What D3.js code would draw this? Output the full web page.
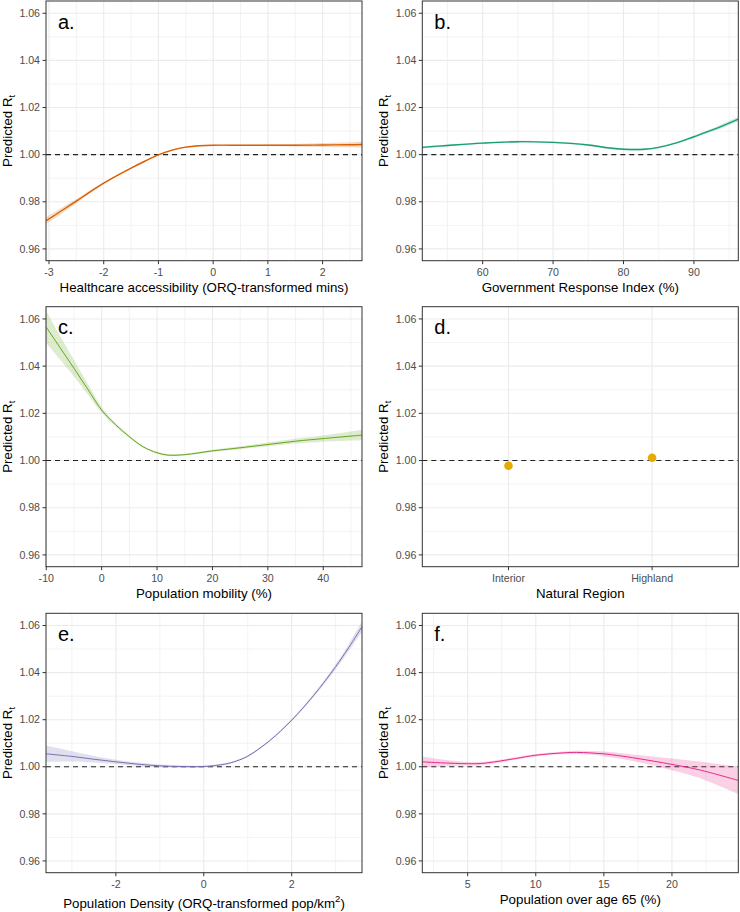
<!DOCTYPE html>
<html><head><meta charset="utf-8">
<script src="https://cdn.jsdelivr.net/npm/d3@7"></script>
<style>body{margin:0;background:#fff}svg{display:block}text{font-family:"Liberation Sans",Arial,sans-serif}</style>
</head><body>
<script>
// ---------- data ----------
const yTicks = [0.96, 0.98, 1.00, 1.02, 1.04, 1.06];
const yMinor = [0.97, 0.99, 1.01, 1.03, 1.05];
const panelLabels = ["a.", "b.", "c.", "d.", "e.", "f."];

// a. Healthcare accessibility
const aX  = [-3.05,-2.75,-2.5,-2.25,-2,-1.75,-1.5,-1.25,-1,-0.75,-0.5,-0.25,0,0.5,1,1.5,2,2.5,2.72];
const aY  = [0.9720,0.9765,0.9803,0.9842,0.9879,0.9912,0.9943,0.9972,0.9999,1.0019,1.0032,1.0038,1.0040,1.0040,1.0040,1.0040,1.0041,1.0042,1.0043];
const aSE = [0.0015,0.0012,0.0009,0.0006,0.0004,0.0003,0.0003,0.0003,0.0003,0.0003,0.0003,0.0002,0.0002,0.0002,0.0003,0.0005,0.0008,0.0011,0.0013];
const aTicks = [-3,-2,-1,0,1,2];
const aMinor = [-2.5,-1.5,-0.5,0.5,1.5,2.5];

// b. Government Response Index
const bX  = [51.4,55,60,65,70,72.5,75,78,80,83,85,87.5,90,93,96.3];
const bY  = [1.0031,1.0039,1.0049,1.0055,1.0052,1.0048,1.0041,1.0028,1.0023,1.0023,1.0031,1.0050,1.0076,1.0109,1.0151];
const bSE = [0.0005,0.0004,0.0004,0.0004,0.0004,0.0004,0.0004,0.0004,0.0004,0.0004,0.0004,0.0004,0.0005,0.0007,0.0010];
const bTicks = [60,70,80,90];
const bMinor = [55,65,75,85,95];

// c. Population mobility
const cX  = [-10,-7.5,-5,-2.5,0,2.5,5,7.5,10,12,15,20,25,30,35,40,47];
const cY  = [1.0565,1.0478,1.0391,1.0302,1.0214,1.0152,1.0101,1.0058,1.0033,1.0023,1.0025,1.0041,1.0054,1.0068,1.0082,1.0093,1.0108];
const cSE = [0.0068,0.0050,0.0035,0.0022,0.0012,0.0008,0.0005,0.0004,0.0004,0.0004,0.0004,0.0005,0.0006,0.0008,0.0010,0.0013,0.0022];
const cTicks = [-10,0,10,20,30,40];
const cMinor = [-5,5,15,25,35,45];

// d. Natural Region
const dCats = ["Interior", "Highland"];
const dY    = [0.9978, 1.0012];

// e. Population Density
const eX  = [-3.59,-3,-2.5,-2,-1.5,-1,-0.5,0,0.5,0.75,1,1.5,2,2.5,3,3.3,3.6];
const eY  = [1.0055,1.0044,1.0032,1.0021,1.0011,1.0004,1.0001,1.0001,1.0012,1.0025,1.0045,1.0111,1.0198,1.0303,1.0425,1.0507,1.0595];
const eSE = [0.0035,0.0022,0.0014,0.0009,0.0007,0.0006,0.0005,0.0004,0.0004,0.0004,0.0004,0.0004,0.0005,0.0007,0.0011,0.0015,0.0022];
const eTicks = [-2,0,2];
const eMinor = [-3,-1,1,3];

// f. Population over age 65
const fX  = [1.67,3,5,6,7,8.5,10,12,13,14,15,16,17.5,20,22,24.87];
const fY  = [1.0021,1.0017,1.0013,1.0014,1.0021,1.0035,1.0049,1.0059,1.0061,1.0059,1.0055,1.0048,1.0035,1.0010,0.9987,0.9942];
const fSE = [0.0023,0.0015,0.0008,0.0007,0.0006,0.0005,0.0005,0.0006,0.0007,0.0008,0.0010,0.0012,0.0015,0.0025,0.0035,0.0058];
const fTicks = [5,10,15,20];
const fMinor = [2.5,7.5,12.5,17.5,22.5];

const colors = ["#D95F02","#1B9E77","#66A61E","#E6AB02","#7570B3","#E7298A"];

// ---------- layout ----------
const W = 740, H = 912;
const cols = [{l:46, r:362}, {l:422.3, r:738.3}];
const rows = [{t:1, b:260.7}, {t:306.7, b:566.7}, {t:613.3, b:872.7}];
const yDomain = [0.955, 1.0652];

const svg = d3.select("body").append("svg").attr("width", W).attr("height", H);
const defs = svg.append("defs");

const panels = [
  {x:aX, y:aY, se:aSE, ticks:aTicks, minor:aMinor, dom:[-3.055,2.72], title:"Healthcare accessibility (ORQ-transformed mins)", lw:1.4},
  {x:bX, y:bY, se:bSE, ticks:bTicks, minor:bMinor, dom:[51.43,96.3], title:"Government Response Index (%)", lw:1.4},
  {x:cX, y:cY, se:cSE, ticks:cTicks, minor:cMinor, dom:[-10.05,47.0], title:"Population mobility (%)", lw:1},
  {cats:dCats, y:dY, title:"Natural Region"},
  {x:eX, y:eY, se:eSE, ticks:eTicks, minor:eMinor, dom:[-3.59,3.6], title:"Population Density (ORQ-transformed pop/km", sup:"2", titleEnd:")", lw:1},
  {x:fX, y:fY, se:fSE, ticks:fTicks, minor:fMinor, dom:[1.67,24.87], title:"Population over age 65 (%)", lw:1}
];

const curve = d3.curveCatmullRom.alpha(0.5);

panels.forEach((p, i) => {
  const c = cols[i % 2], r = rows[Math.floor(i / 2)];
  const g = svg.append("g");
  const y = d3.scaleLinear().domain(yDomain).range([r.b, r.t]);
  let x;
  if (p.cats) {
    x = d3.scalePoint().domain(p.cats).range([c.l, c.r]).padding(0.6);
  } else {
    x = d3.scaleLinear().domain(p.dom).range([c.l, c.r]);
  }
  const clipId = "clip" + i;
  defs.append("clipPath").attr("id", clipId).append("rect")
    .attr("x", c.l).attr("y", r.t).attr("width", c.r - c.l).attr("height", r.b - r.t);

  // grid
  const grid = g.append("g");
  yMinor.forEach(v => grid.append("line").attr("x1", c.l).attr("x2", c.r).attr("y1", y(v)).attr("y2", y(v)).attr("stroke", "#ebebeb").attr("stroke-width", 0.6));
  if (!p.cats) p.minor.filter(v => v > p.dom[0] && v < p.dom[1]).forEach(v => grid.append("line").attr("y1", r.t).attr("y2", r.b).attr("x1", x(v)).attr("x2", x(v)).attr("stroke", "#ebebeb").attr("stroke-width", 0.6));
  yTicks.forEach(v => grid.append("line").attr("x1", c.l).attr("x2", c.r).attr("y1", y(v)).attr("y2", y(v)).attr("stroke", "#ebebeb").attr("stroke-width", 1.1));
  const xt = p.cats ? p.cats : p.ticks;
  xt.forEach(v => grid.append("line").attr("y1", r.t).attr("y2", r.b).attr("x1", x(v)).attr("x2", x(v)).attr("stroke", "#ebebeb").attr("stroke-width", 1.1));

  // reference line
  g.append("line").attr("x1", c.l).attr("x2", c.r).attr("y1", y(1)).attr("y2", y(1))
    .attr("stroke", "#222").attr("stroke-width", 1.1).attr("stroke-dasharray", "5,4");

  const plot = g.append("g").attr("clip-path", `url(#${clipId})`);
  if (p.cats) {
    plot.selectAll("circle").data(p.cats).join("circle")
      .attr("cx", d => x(d)).attr("cy", (d, k) => y(p.y[k])).attr("r", 4.3).attr("fill", colors[i]);
  } else {
    const data = p.x.map((v, k) => ({x: v, y: p.y[k], se: p.se[k]}));
    plot.append("path").datum(data)
      .attr("d", d3.area().curve(curve).x(d => x(d.x)).y0(d => y(d.y - d.se)).y1(d => y(d.y + d.se)))
      .attr("fill", colors[i]).attr("fill-opacity", 0.22);
    plot.append("path").datum(data)
      .attr("d", d3.line().curve(curve).x(d => x(d.x)).y(d => y(d.y)))
      .attr("fill", "none").attr("stroke", colors[i]).attr("stroke-width", p.lw);
  }

  // border
  g.append("rect").attr("x", c.l).attr("y", r.t).attr("width", c.r - c.l).attr("height", r.b - r.t)
    .attr("fill", "none").attr("stroke", "#333").attr("stroke-width", 1);

  // y ticks
  yTicks.forEach(v => {
    g.append("line").attr("x1", c.l - 3.5).attr("x2", c.l).attr("y1", y(v)).attr("y2", y(v)).attr("stroke", "#333").attr("stroke-width", 1);
    g.append("text").attr("x", c.l - 6).attr("y", y(v)).attr("dy", "0.35em").attr("text-anchor", "end")
      .attr("font-size", 10.6).attr("fill", "#4d4d4d").text(v.toFixed(2));
  });
  // x ticks
  xt.forEach(v => {
    g.append("line").attr("y1", r.b).attr("y2", r.b + 3.5).attr("x1", x(v)).attr("x2", x(v)).attr("stroke", "#333").attr("stroke-width", 1);
    g.append("text").attr("x", x(v)).attr("y", r.b + 15).attr("text-anchor", "middle")
      .attr("font-size", 10.6).attr("fill", "#4d4d4d").text(String(v));
  });

  // x title
  const tt = g.append("text").attr("x", (c.l + c.r) / 2).attr("y", r.b + (p.sup ? 35.5 : 31))
    .attr("text-anchor", "middle").attr("font-size", 13.3).attr("fill", "#000");
  tt.append("tspan").text(p.title);
  if (p.sup) {
    tt.append("tspan").attr("dy", -6).attr("font-size", 9.5).text(p.sup);
    tt.append("tspan").attr("dy", 6).text(p.titleEnd);
  }

  // y title
  const yt = g.append("text").attr("transform", `translate(${c.l - 34.5},${(r.t + r.b) / 2}) rotate(-90)`)
    .attr("text-anchor", "middle").attr("font-size", 13.3).attr("fill", "#000");
  yt.append("tspan").text("Predicted R");
  yt.append("tspan").attr("dy", 3).attr("font-size", 9.5).text("t");

  // panel label
  g.append("text").attr("x", c.l + 12).attr("y", r.t + 27.5).attr("font-size", 20).attr("fill", "#000").text(panelLabels[i]);
});
</script>
</body></html>
